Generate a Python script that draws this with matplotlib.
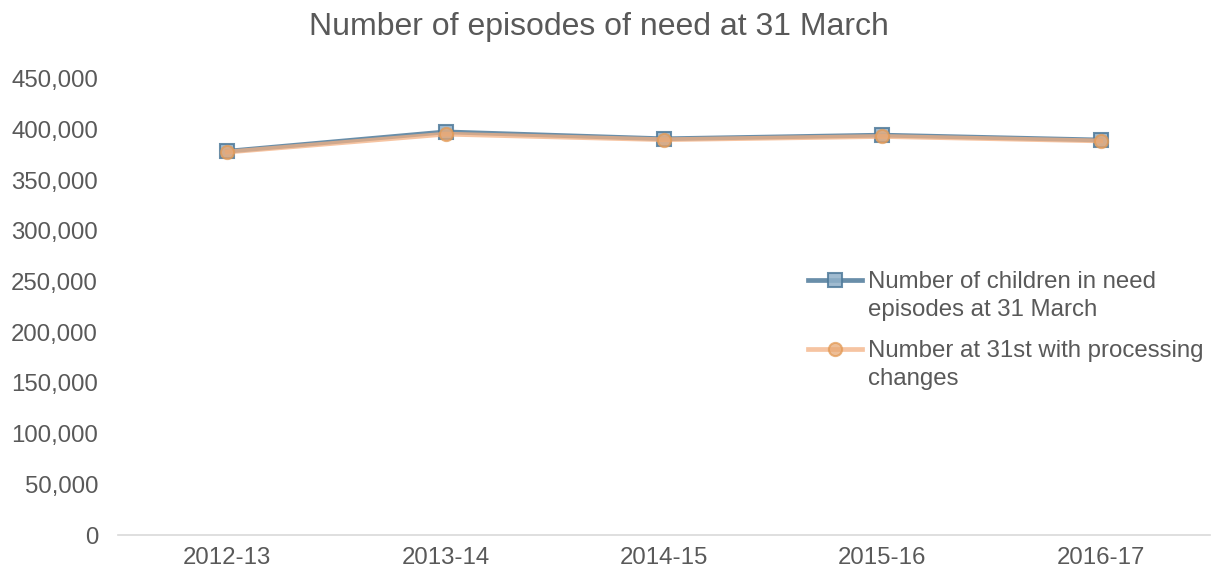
import matplotlib
matplotlib.use("Agg")
import matplotlib.pyplot as plt
from matplotlib.ticker import FuncFormatter

plt.rcParams['font.family'] = ['Liberation Sans', 'DejaVu Sans']

categories = ["2012-13", "2013-14", "2014-15", "2015-16", "2016-17"]
cin_episodes = [378700, 397800, 391000, 394600, 389800]
with_processing = [377900, 395600, 390100, 393300, 388900]
series_first = ["Number of children in need", "Number at 31st with processing"]
series_second = ["episodes at 31 March", "changes"]

FS = 17.3
TXT = "#595959"

fig = plt.figure(figsize=(12.12, 5.71), dpi=100)
ax = fig.add_axes([118/1212, 1-535/571, (1210-118)/1212, (535-79)/571])

x = list(range(len(categories)))
l1, = ax.plot(x, cin_episodes, color="#4F7A9A", alpha=0.85, lw=3.4, marker="s", ms=10,
              mfc="#8FB0C8", mec="#4F7A9A", mew=1.5, zorder=3)
l2, = ax.plot(x, with_processing, color="#F4B183", alpha=0.75, lw=3.4, marker="o", ms=9.5,
              mfc="#E8A874", mec="#E39A55", mew=1.5, zorder=4)

ax.set_xlim(-0.5, len(categories) - 0.5)
ax.set_ylim(0, 450000)
ax.set_yticks(range(0, 450001, 50000))
ax.yaxis.set_major_formatter(FuncFormatter(lambda v, p: f"{int(v):,}"))
ax.set_xticks(x)
ax.set_xticklabels(categories)
for s in ["top", "right", "left"]:
    ax.spines[s].set_visible(False)
ax.spines["bottom"].set_color("#D9D9D9")
ax.spines["bottom"].set_linewidth(1.2)
ax.tick_params(axis="both", length=0, labelsize=FS, colors=TXT)
ax.tick_params(axis="x", pad=8.5)
ax.tick_params(axis="y", pad=14.4)

fig.text(599/1212, 1-27/571, "Number of episodes of need at 31 March", ha="center", va="center",
         fontsize=23, color=TXT)

leg = ax.legend([l1, l2], series_first, loc="upper left",
                bbox_to_anchor=(808/1212, 1-271/571), bbox_transform=fig.transFigure,
                frameon=False, fontsize=FS, labelcolor=TXT, handlelength=2.25,
                handletextpad=0.25, labelspacing=1.97, borderaxespad=0, borderpad=0)

fig.canvas.draw()
inv = fig.transFigure.inverted()
for t, second in zip(leg.get_texts(), series_second):
    bb = t.get_window_extent()
    x0, yc = inv.transform((bb.x0, (bb.y0 + bb.y1) / 2))
    fig.text(x0, yc - 28/571, second, ha="left", va="center", fontsize=FS, color=TXT)

fig.savefig("out.png", dpi=100)
